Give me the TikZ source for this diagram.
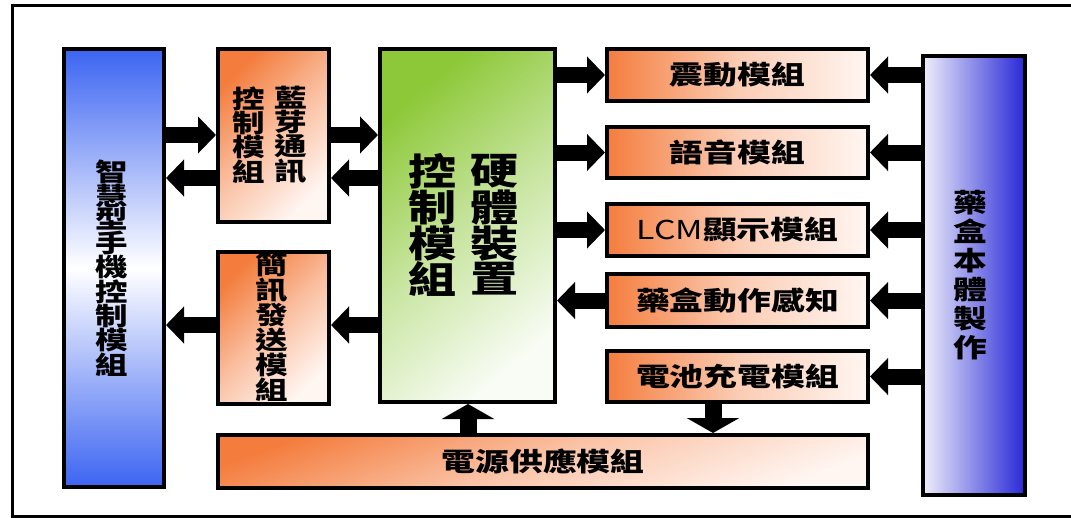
\documentclass[tikz,border=0pt]{standalone}
\usepackage{fontspec}
\usetikzlibrary{arrows.meta}
\newfontfamily\cjk[FakeStretch=1.3]{Noto Sans CJK TC}
\definecolor{orC}{RGB}{244,125,62}
\definecolor{orL}{RGB}{255,246,242}
\definecolor{grC}{RGB}{140,200,55}
\definecolor{grL}{RGB}{248,252,244}
\definecolor{blC}{RGB}{60,100,242}
\definecolor{puC}{RGB}{40,40,215}
\definecolor{puL}{RGB}{238,238,250}
\tikzset{
  box/.style={draw=black, line width=4pt, inner sep=0pt},
  obox/.style={box, shading=axis, top color=orC, bottom color=orL, middle color=orC!45!orL, shading angle=45},
  hbox/.style={box, left color=orC, right color=orL, middle color=orC!35!orL},
  bigarrow/.style={line width=16pt, -{Triangle[width=36pt,length=18pt]}},
  varrow/.style={line width=17pt, -{Triangle[width=52pt,length=15pt]}},
  htxt/.style={inner sep=0pt, font=\cjk\bfseries\fontsize{26}{28}\selectfont},
  vtxt/.style={inner sep=0pt, align=center, font=\cjk\bfseries\fontsize{25}{23.8}\selectfont},
}
\begin{document}
\begin{tikzpicture}[x=1pt,y=-1pt]
\useasboundingbox (0,0) rectangle (1071,517);
\clip (0,0) rectangle (1071,517);
\fill[white] (0,0) rectangle (1071,517);
\draw[line width=3pt] (1080,5) -- (12,5) -- (12,516) -- (1080,516);

% boxes
\node[box, minimum width=100pt, minimum height=438pt, shading=axis, top color=blC, bottom color=blC, middle color=white] (phone) at (114,268) {};
\node[obox, minimum width=111pt, minimum height=173pt] (bt) at (273.5,135.5) {};
\node[obox, minimum width=111pt, minimum height=152pt] (sms) at (273.5,328) {};
\node[box, minimum width=175pt, minimum height=353pt, shading=axis, top color=grC, bottom color=grL, middle color=grC!45!grL, shading angle=40] (ctrl) at (467.5,225.5) {};
\node[box, minimum width=650pt, minimum height=53pt, shading=axis, top color=orC, bottom color=orL, middle color=orC!40!orL, shading angle=20] (power) at (543,461.5) {};
\node[hbox, minimum width=261pt, minimum height=52pt] (vib) at (737.5,75) {};
\node[hbox, minimum width=261pt, minimum height=51pt] (voice) at (737.5,152.5) {};
\node[hbox, minimum width=261pt, minimum height=52pt] (lcm) at (737.5,230) {};
\node[hbox, minimum width=261pt, minimum height=53pt] (sense) at (737.5,300.5) {};
\node[hbox, minimum width=261pt, minimum height=51pt] (batt) at (737.5,376.5) {};
\node[box, minimum width=102pt, minimum height=439pt, left color=puL, right color=puC] (body) at (974,275.5) {};

% texts
\node[vtxt] (tphone) at (112,268) {智\\慧\\型\\手\\機\\控\\制\\模\\組};
\node[vtxt] (tbt1) at (291,135) {藍\\芽\\通\\訊};
\node[vtxt] (tbt2) at (249,135) {控\\制\\模\\組};
\node[vtxt] (tsms) at (272,327) {簡\\訊\\發\\送\\模\\組};
\node[vtxt, font=\cjk\bfseries\fontsize{37}{34}\selectfont] (tc1) at (495,225) {硬\\體\\裝\\置};
\node[vtxt, font=\cjk\bfseries\fontsize{37}{34}\selectfont] (tc2) at (433,225) {控\\制\\模\\組};
\node[vtxt, font=\cjk\bfseries\fontsize{26}{29}\selectfont] (tbody) at (970,275) {藥\\盒\\本\\體\\製\\作};
\node[htxt] (tvib) at (vib) {震動模組};
\node[htxt] (tvoice) at (voice) {語音模組};
\node[htxt] (tlcm) at (lcm) {{\mdseries LCM}顯示模組};
\node[htxt] (tsense) at (sense) {藥盒動作感知};
\node[htxt] (tbatt) at (batt) {電池充電模組};
\node[htxt] (tpower) at (power) {電源供應模組};

% arrows
\draw[bigarrow] (phone.east |- 0,135) -- (bt.west |- 0,135);
\draw[bigarrow] (bt.west |- 0,178) -- (phone.east |- 0,178);
\draw[bigarrow] (bt.east |- 0,135) -- (ctrl.west |- 0,135);
\draw[bigarrow] (ctrl.west |- 0,178) -- (bt.east |- 0,178);
\draw[bigarrow] (sms.west |- 0,325) -- (phone.east |- 0,325);
\draw[bigarrow] (ctrl.west |- 0,325) -- (sms.east |- 0,325);
\draw[bigarrow] (ctrl.east |- vib) -- (vib.west);
\draw[bigarrow] (ctrl.east |- voice) -- (voice.west);
\draw[bigarrow] (ctrl.east |- lcm) -- (lcm.west);
\draw[bigarrow] (sense.west) -- (ctrl.east |- sense);
\draw[bigarrow] (body.west |- vib) -- (vib.east);
\draw[bigarrow] (body.west |- voice) -- (voice.east);
\draw[bigarrow] (body.west |- lcm) -- (lcm.east);
\draw[bigarrow] (body.west |- sense) -- (sense.east);
\draw[bigarrow] (body.west |- batt) -- (batt.east);
\draw[varrow] (power.north -| 468,0) -- (ctrl.south -| 468,0);
\draw[varrow] (batt.south -| 713,0) -- (power.north -| 713,0);
\end{tikzpicture}
\end{document}
